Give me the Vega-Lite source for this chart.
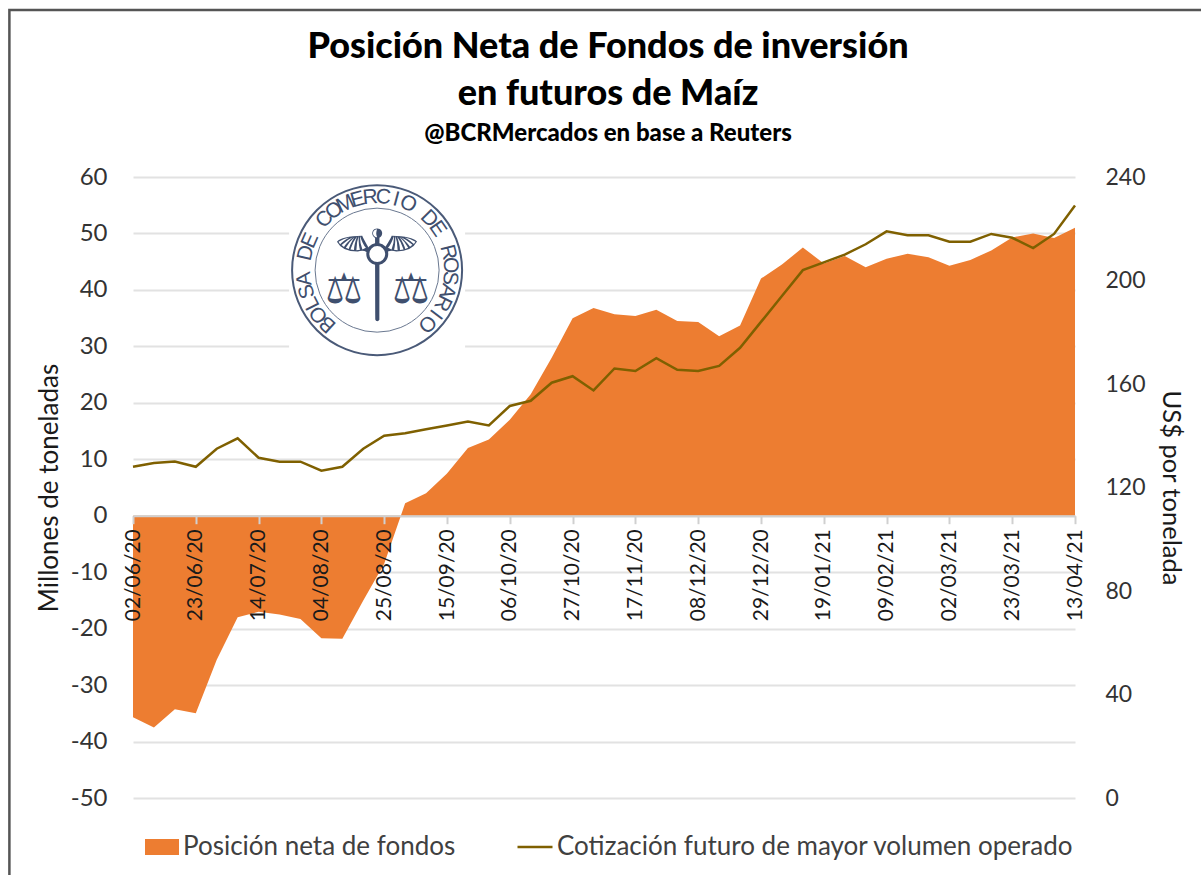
{
"$schema":"https://vega.github.io/schema/vega-lite/v6.json",
"width":942,"height":621,
"autosize":{"type":"none"},
"padding":{"left":133,"top":177,"right":126,"bottom":77},
"background":"white",
"config":{"view":{"stroke":null},"font":"Lato"},
"title":{"text":["Posición Neta de Fondos de inversión","en futuros de Maíz"],"subtitle":"@BCRMercados  en base a Reuters","anchor":"middle","frame":"group","dx":4,"offset":-138,"font":"Lato","fontWeight":900,"fontSize":36,"lineHeight":47,"color":"#000000","subtitleFont":"Lato","subtitleFontWeight":900,"subtitleFontSize":24,"subtitleColor":"#000000","subtitlePadding":9},
"datasets":{
"semanas":[
{"fecha":"2020-06-02","posicion":-35.7,"cotizacion":128},
{"fecha":"2020-06-09","posicion":-37.5,"cotizacion":129.5},
{"fecha":"2020-06-16","posicion":-34.3,"cotizacion":130},
{"fecha":"2020-06-23","posicion":-35,"cotizacion":128},
{"fecha":"2020-06-30","posicion":-25.5,"cotizacion":135},
{"fecha":"2020-07-07","posicion":-18,"cotizacion":139},
{"fecha":"2020-07-14","posicion":-17,"cotizacion":131.5},
{"fecha":"2020-07-21","posicion":-17.5,"cotizacion":130},
{"fecha":"2020-07-28","posicion":-18.3,"cotizacion":130},
{"fecha":"2020-08-04","posicion":-21.7,"cotizacion":126.5},
{"fecha":"2020-08-11","posicion":-21.8,"cotizacion":128},
{"fecha":"2020-08-18","posicion":-15,"cotizacion":135},
{"fecha":"2020-08-25","posicion":-8.5,"cotizacion":140},
{"fecha":"2020-09-01","posicion":2.2,"cotizacion":141},
{"fecha":"2020-09-08","posicion":4,"cotizacion":142.5},
{"fecha":"2020-09-15","posicion":7.5,"cotizacion":144},
{"fecha":"2020-09-22","posicion":12,"cotizacion":145.5},
{"fecha":"2020-09-29","posicion":13.5,"cotizacion":144},
{"fecha":"2020-10-06","posicion":17,"cotizacion":151.5},
{"fecha":"2020-10-13","posicion":21.5,"cotizacion":153.5},
{"fecha":"2020-10-20","posicion":28,"cotizacion":160.5},
{"fecha":"2020-10-27","posicion":35,"cotizacion":163},
{"fecha":"2020-11-03","posicion":36.8,"cotizacion":157.5},
{"fecha":"2020-11-10","posicion":35.7,"cotizacion":166},
{"fecha":"2020-11-17","posicion":35.4,"cotizacion":165},
{"fecha":"2020-11-24","posicion":36.5,"cotizacion":170},
{"fecha":"2020-12-01","posicion":34.5,"cotizacion":165.5},
{"fecha":"2020-12-08","posicion":34.3,"cotizacion":165},
{"fecha":"2020-12-15","posicion":31.8,"cotizacion":167},
{"fecha":"2020-12-22","posicion":33.7,"cotizacion":174},
{"fecha":"2020-12-29","posicion":42,"cotizacion":184},
{"fecha":"2021-01-05","posicion":44.5,"cotizacion":194},
{"fecha":"2021-01-12","posicion":47.5,"cotizacion":204},
{"fecha":"2021-01-19","posicion":44.7,"cotizacion":207},
{"fecha":"2021-01-26","posicion":46,"cotizacion":210},
{"fecha":"2021-02-02","posicion":44,"cotizacion":214},
{"fecha":"2021-02-09","posicion":45.5,"cotizacion":219},
{"fecha":"2021-02-16","posicion":46.4,"cotizacion":217.5},
{"fecha":"2021-02-23","posicion":45.8,"cotizacion":217.5},
{"fecha":"2021-03-02","posicion":44.3,"cotizacion":215},
{"fecha":"2021-03-09","posicion":45.3,"cotizacion":215},
{"fecha":"2021-03-16","posicion":47,"cotizacion":218},
{"fecha":"2021-03-23","posicion":49.3,"cotizacion":216.5},
{"fecha":"2021-03-30","posicion":50,"cotizacion":212.5},
{"fecha":"2021-04-06","posicion":49.2,"cotizacion":218},
{"fecha":"2021-04-13","posicion":51,"cotizacion":229}
],
"uno":[{"marca":"sello"}],
"sello":[{"l":"B","i":0},{"l":"O","i":1},{"l":"L","i":2},{"l":"S","i":3},{"l":"A","i":4},{"l":"D","i":6},{"l":"E","i":7},{"l":"C","i":9},{"l":"O","i":10},{"l":"M","i":11},{"l":"E","i":12},{"l":"R","i":13},{"l":"C","i":14},{"l":"I","i":15},{"l":"O","i":16},{"l":"D","i":18},{"l":"E","i":19},{"l":"R","i":21},{"l":"O","i":22},{"l":"S","i":23},{"l":"A","i":24},{"l":"R","i":25},{"l":"I","i":26},{"l":"O","i":27}]
},
"data":{"name":"semanas"},
"layer":[
{"layer":[
 {"data":{"name":"uno"},"mark":{"type":"point","shape":"square","filled":true,"color":"white","size":30976,"opacity":1},
  "encoding":{"x":{"datum":{"year":2020,"month":8,"date":22,"hours":15,"utc":true},"type":"temporal"},"y":{"datum":43.5,"type":"quantitative"}}},
 {"mark":{"type":"area","opacity":1},
  "encoding":{
   "x":{"field":"fecha","type":"temporal","scale":{"type":"utc","domain":["2020-06-02","2021-04-13"]},
    "axis":{"title":null,"zindex":1,"offset":-282.3,"grid":false,"values":["2020-06-02","2020-06-23","2020-07-14","2020-08-04","2020-08-25","2020-09-15","2020-10-06","2020-10-27","2020-11-17","2020-12-08","2020-12-29","2021-01-19","2021-02-09","2021-03-02","2021-03-23","2021-04-13"],"format":"%d/%m/%y","labelAngle":-90,"labelAlign":"right","labelBaseline":"middle","labelOverlap":false,"labelBound":false,"labelFlush":false,"labelFontSize":21,"labelColor":"#1a1a1a","labelFont":"Lato","labelPadding":5,"domainColor":"#d0d0d0","domainWidth":2,"tickColor":"#d0d0d0","tickWidth":2,"tickSize":8}},
   "y":{"field":"posicion","type":"quantitative","scale":{"domain":[-50,60],"nice":false,"zero":false},
    "axis":{"title":"Millones de toneladas","values":[-50,-40,-30,-20,-10,0,10,20,30,40,50,60],"labelExpr":"''+datum.value","grid":true,"gridColor":"#e2e2e2","gridWidth":2,"domain":false,"ticks":false,"labelFontSize":24,"labelColor":"#333333","labelPadding":26,"titleFontSize":26,"titleFontWeight":"normal","titleColor":"#1a1a1a","titlePadding":8}},
   "y2":{"datum":0},
   "fill":{"datum":"Posición neta de fondos","scale":{"range":["#ed7d31"]},
    "legend":{"title":null,"orient":"none","legendX":12,"legendY":653,"symbolType":"M-1,-0.47H1V0.47H-1Z","symbolSize":1156,"symbolOpacity":1,"symbolStrokeWidth":0,"labelFontSize":26,"labelLimit":500,"labelColor":"#404040","labelOffset":4}}
  }},
 {"data":{"name":"uno"},"mark":{"type":"point","shape":"circle","filled":false,"color":"#4a5a78","size":28900,"strokeWidth":2,"opacity":1},
  "encoding":{"x":{"datum":{"year":2020,"month":8,"date":22,"hours":15,"utc":true},"type":"temporal"},"y":{"datum":43.5,"type":"quantitative"}}},
 {"data":{"name":"uno"},"mark":{"type":"point","shape":"circle","filled":false,"color":"#6a7890","size":15376,"strokeWidth":1,"opacity":1},
  "encoding":{"x":{"datum":{"year":2020,"month":8,"date":22,"hours":15,"utc":true},"type":"temporal"},"y":{"datum":43.5,"type":"quantitative"}}},
 {"data":{"name":"sello"},
  "mark":{"type":"text","radius":73,"font":"Liberation Sans","fontSize":21,"color":"#3f4f6e","align":"center","baseline":"middle"},
  "encoding":{"x":{"datum":{"year":2020,"month":8,"date":22,"hours":15,"utc":true},"type":"temporal"},"y":{"datum":43.5,"type":"quantitative"},
   "text":{"field":"l"},
   "theta":{"field":"i","type":"quantitative","scale":{"domain":[0,27],"range":[3.885,8.674]}},
   "angle":{"field":"i","type":"quantitative","scale":{"domain":[0,27],"range":[222.6,497]},"legend":null}}},
 {"data":{"name":"uno"},"mark":{"type":"text","text":"⚚","font":"DejaVu Sans","fontSize":125,"color":"#3f4f6e","align":"center","baseline":"middle","yOffset":12},
  "encoding":{"x":{"datum":{"year":2020,"month":8,"date":22,"hours":15,"utc":true},"type":"temporal"},"y":{"datum":43.5,"type":"quantitative"}}},
 {"data":{"name":"uno"},"mark":{"type":"text","text":"⚖","font":"DejaVu Sans","fontSize":42,"color":"#3f4f6e","align":"center","baseline":"middle","xOffset":-33,"yOffset":20},
  "encoding":{"x":{"datum":{"year":2020,"month":8,"date":22,"hours":15,"utc":true},"type":"temporal"},"y":{"datum":43.5,"type":"quantitative"}}},
 {"data":{"name":"uno"},"mark":{"type":"text","text":"⚖","font":"DejaVu Sans","fontSize":42,"color":"#3f4f6e","align":"center","baseline":"middle","xOffset":34,"yOffset":20},
  "encoding":{"x":{"datum":{"year":2020,"month":8,"date":22,"hours":15,"utc":true},"type":"temporal"},"y":{"datum":43.5,"type":"quantitative"}}},
 {"data":{"name":"uno"},"mark":{"type":"rect","filled":false,"stroke":"#555555","strokeWidth":2.5,"fill":null,"opacity":1},
  "encoding":{"x":{"datum":{"year":2020,"month":4,"date":21,"hours":16,"utc":true},"type":"temporal"},"x2":{"datum":{"year":2021,"month":5,"date":30,"hours":12,"utc":true}},"y":{"datum":89.6,"type":"quantitative"},"y2":{"datum":-70}}}
]},
{"mark":{"type":"line","color":"#7f6000","strokeWidth":2.5},
 "encoding":{
  "x":{"field":"fecha","type":"temporal"},
  "y":{"field":"cotizacion","type":"quantitative","scale":{"domain":[0,240],"nice":false},
   "axis":{"orient":"right","title":"US$ por tonelada","values":[0,40,80,120,160,200,240],"grid":false,"domain":false,"ticks":false,"labelFontSize":23,"labelColor":"#333333","labelPadding":30,"titleFontSize":25.5,"titleFontWeight":"normal","titleColor":"#1a1a1a","titlePadding":12}},
  "stroke":{"datum":"Cotización futuro de mayor volumen operado","scale":{"range":["#7f6000"]},
   "legend":{"title":null,"orient":"none","legendX":383,"legendY":651,"symbolType":"stroke","symbolSize":1225,"symbolStrokeWidth":2.5,"labelFontSize":26,"labelLimit":700,"labelColor":"#404040","labelOffset":3}}
 }}
],
"resolve":{"scale":{"y":"independent"}}
}
